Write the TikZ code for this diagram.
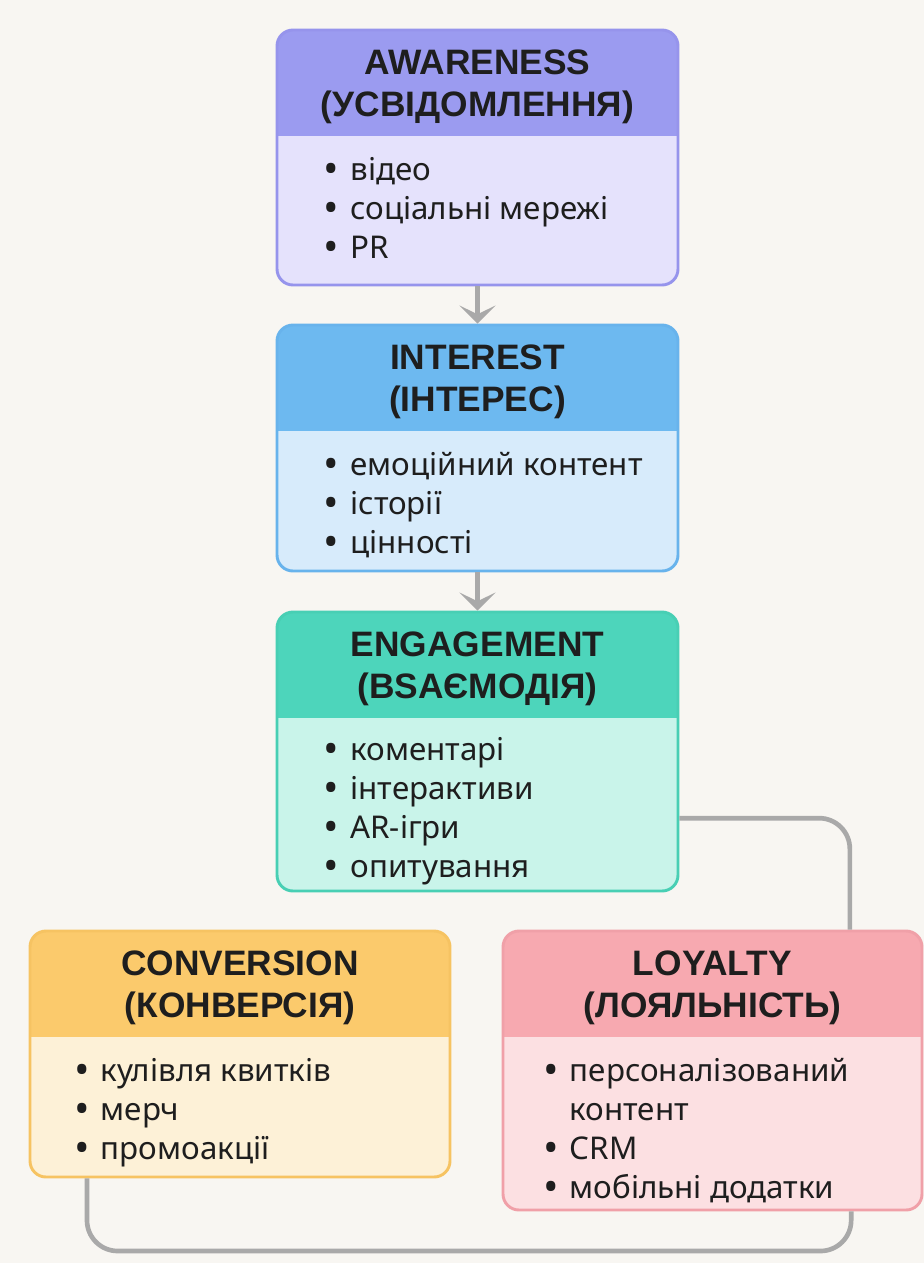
\documentclass[tikz,border=0pt]{standalone}
\usepackage{fontspec}
\setmainfont{Noto Sans}
\newfontfamily\headfont{Liberation Sans}
\usetikzlibrary{arrows.meta}

\definecolor{Cbackgr}{HTML}{F8F6F2}
\definecolor{Clinkgray}{HTML}{A9A9A9}
\definecolor{Cinktext}{HTML}{1E1E1E}
\definecolor{Cawarehd}{HTML}{9B9BF0}
\definecolor{Cawarebd}{HTML}{E5E2FC}
\definecolor{Cawareln}{HTML}{9694EC}
\definecolor{Cinterhd}{HTML}{6DB9F0}
\definecolor{Cinterbd}{HTML}{D7EBFB}
\definecolor{Cinterln}{HTML}{68B3EC}
\definecolor{Cengaghd}{HTML}{4DD5BB}
\definecolor{Cengagbd}{HTML}{C9F4EA}
\definecolor{Cengagln}{HTML}{48CFB4}
\definecolor{Cconvhd}{HTML}{FBCA6C}
\definecolor{Cconvbd}{HTML}{FDF1D7}
\definecolor{Cconvln}{HTML}{F6C362}
\definecolor{Cloyalhd}{HTML}{F7A9B0}
\definecolor{Cloyalbd}{HTML}{FCE0E2}
\definecolor{Cloyalln}{HTML}{F0A0A8}

\newcommand{\itm}{\makebox[20pt][l]{\raisebox{-2.2pt}{\fontsize{31}{31}\selectfont•}}}

\begin{document}
\begin{tikzpicture}[x=0.75pt,y=-0.75pt,
	stage/.style n args={3}{draw=#1,fill=#2,line width=2.2pt,rounded corners=12pt,
		minimum width=300.75pt,inner sep=0pt,
		path picture={\fill[#3,sharp corners] (path picture bounding box.north west)
			rectangle ([yshift=-79.5pt]path picture bounding box.north east);}},
	headtxt/.style={font=\headfont\bfseries\fontsize{26.5}{31.5}\selectfont,
		text=Cinktext,align=center,inner sep=0pt},
	listtxt/.style={font=\fontsize{23.5}{29.25}\selectfont,text=Cinktext,
		align=left,inner sep=0pt,anchor=north west},
	flowarrow/.style={draw=Clinkgray,line width=3.5pt,
		-{Stealth[length=13.5pt,width=27pt,inset=6.5pt]}},
	looplink/.style={draw=Clinkgray,line width=3.5pt,rounded corners=23pt}]

	\fill[Cbackgr] (0,0) rectangle (924,1263);

	% stages
	\node[stage={Cawareln}{Cawarebd}{Cawarehd},minimum height=191.25pt] (awareness) at (477.5,157.5) {};
	\node[stage={Cinterln}{Cinterbd}{Cinterhd},minimum height=184.5pt] (interest) at (477.5,448) {};
	\node[stage={Cengagln}{Cengagbd}{Cengaghd},minimum height=209.25pt] (engagement) at (477.5,751.5) {};
	\node[stage={Cconvln}{Cconvbd}{Cconvhd},minimum height=184.5pt,minimum width=315pt] (conversion) at (240,1054) {};
	\node[stage={Cloyalln}{Cloyalbd}{Cloyalhd},minimum height=209.25pt,minimum width=314.25pt] (loyalty) at (712.5,1070.5) {};

	% titles
	\node[headtxt] (aw-head) at ([yshift=-44pt]awareness.north) {AWARENESS\\(УСВІДОМЛЕННЯ)};
	\node[headtxt] (in-head) at ([yshift=-44pt]interest.north) {INTEREST\\(ІНТЕРЕС)};
	\node[headtxt] (en-head) at ([yshift=-44pt]engagement.north) {ENGAGEMENT\\(ВSАЄМОДІЯ)};
	\node[headtxt] (co-head) at ([yshift=-44pt]conversion.north) {CONVERSION\\(КОНВЕРСІЯ)};
	\node[headtxt] (lo-head) at ([yshift=-44pt]loyalty.north) {LOYALTY\\(ЛОЯЛЬНІСТЬ)};

	% lists
	\node[listtxt] (aw-list) at ([xshift=36pt,yshift=-93pt]awareness.north west)
		{\strut\itm відео\\\itm соціальні мережі\\\itm PR};
	\node[listtxt] (in-list) at ([xshift=36pt,yshift=-93pt]interest.north west)
		{\strut\itm емоційний контент\\\itm історії\\\itm цінності};
	\node[listtxt] (en-list) at ([xshift=36pt,yshift=-92pt]engagement.north west)
		{\strut\itm коментарі\\\itm інтерактиви\\\itm AR-ігри\\\itm опитування};
	\node[listtxt] (co-list) at ([xshift=34pt,yshift=-93pt]conversion.north west)
		{\strut\itm кулівля квитків\\\itm мерч\\\itm промоакції};
	\node[listtxt] (lo-list) at ([xshift=31pt,yshift=-93pt]loyalty.north west)
		{\strut\itm персоналізований\\\hspace*{20pt}контент\\\itm CRM\\\itm мобільні додатки};

	% connectors
	\draw[flowarrow] (awareness) -- (interest);
	\draw[flowarrow] (interest) -- (engagement);
	\draw[looplink] ([yshift=-50pt]engagement.east) -| ([xshift=103pt]loyalty.north);
	\coordinate (floorline) at (470,1251);
	\draw[looplink] ([xshift=-114.75pt]conversion.south) |- (floorline) -| ([xshift=104pt]loyalty.south);
\end{tikzpicture}
\end{document}
